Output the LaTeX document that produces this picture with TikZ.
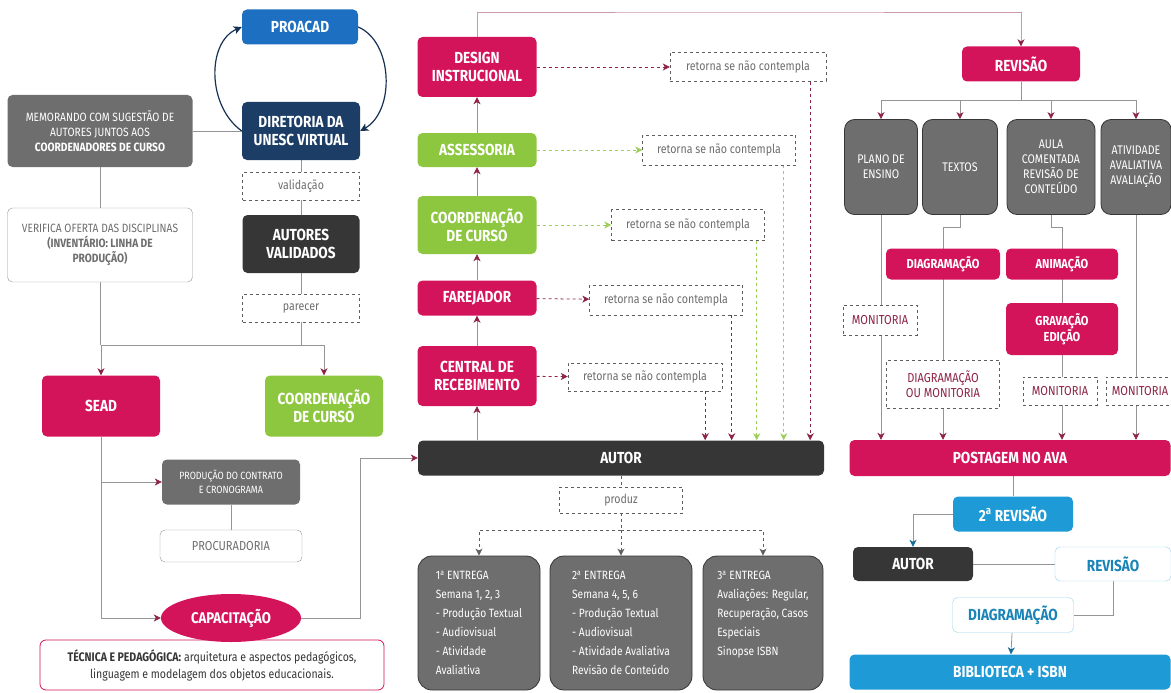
\documentclass[tikz,border=0pt]{standalone}
\usepackage{fontspec}
\setmainfont{Fira Sans}[FakeStretch=0.85]
\usetikzlibrary{arrows.meta,shapes.geometric,backgrounds}

\definecolor{crimson}{HTML}{D4145A}
\definecolor{leaf}{HTML}{8DC63F}
\definecolor{coal}{HTML}{363636}
\definecolor{slate}{HTML}{6E6E6E}
\definecolor{navy}{HTML}{1B3D66}
\definecolor{royal}{HTML}{1C6FC1}
\definecolor{sky}{HTML}{1E9BD7}
\definecolor{wire}{HTML}{959595}
\definecolor{wine}{HTML}{8E2445}
\definecolor{rose}{HTML}{C99AA9}

\begin{document}
\begin{tikzpicture}[x=1pt, y=-1pt,
  box/.style={rounded corners=5pt, align=center, text=white, inner sep=2pt,
    font=\bfseries\fontsize{16}{18}\selectfont},
  redbox/.style={box, fill=crimson},
  greenbox/.style={box, fill=leaf},
  darkbox/.style={box, fill=coal},
  greybox/.style={box, fill=slate, font=\fontsize{12}{15}\selectfont},
  tallbox/.style={box, fill=slate, draw=coal, thick, rounded corners=10pt,
    font=\fontsize{12.5}{15}\selectfont, minimum height=95pt},
  entrega/.style={box, fill=slate, draw=coal, thick, rounded corners=14pt, align=left,
    minimum height=134pt, font=\fontsize{12}{19}\selectfont},
  outbox/.style={box, fill=white, draw=wire, text=slate},
  blueout/.style={box, fill=white, draw=sky!45, text=sky!85!black},
  dashbox/.style={draw=coal!80, dashed, fill=white, align=center, inner sep=2pt,
    text=slate, font=\fontsize{12.5}{14}\selectfont},
  monbox/.style={dashbox, text=wine, font=\fontsize{13}{15}\selectfont},
  line/.style={draw=wire, thick},
  arr/.style={line, -{Stealth[length=7pt, width=7pt, inset=2pt, color=wine]}},
  bluearr/.style={line, -{Stealth[length=7pt, width=7pt, inset=2pt, color=sky!70!black]}},
  dashred/.style={draw=wine, thick, dashed, -{Stealth[length=7pt, width=7pt, inset=2pt]}},
  dashgreen/.style={draw=leaf!85, thick, dashed, -{Stealth[length=7pt, width=7pt, inset=2pt]}},
  dashgrey/.style={draw=coal!80, thick, dashed},
  loop/.style={draw=navy!80!black, very thick, -{Stealth[length=8pt, width=8pt, inset=2pt]}}
]
\useasboundingbox (0,0) rectangle (1171,693);

% left column
\node[box, fill=royal, minimum width=116pt, minimum height=35pt] (proacad) at (300,27) {PROACAD};
\node[box, fill=navy, minimum width=118pt, minimum height=58pt] (diretoria) at (301,131) {DIRETORIA DA\\UNESC VIRTUAL};
\node[greybox, minimum width=185pt, minimum height=72pt] (memo) at (100,131) {MEMORANDO COM SUGESTÃO DE\\AUTORES JUNTOS AOS\\\textbf{COORDENADORES DE CURSO}};
\node[dashbox, minimum width=117pt, minimum height=28pt] (valid) at (301,186) {validação};
\node[darkbox, minimum width=117pt, minimum height=58pt] (validados) at (301,244) {AUTORES\\VALIDADOS};
\node[dashbox, minimum width=117pt, minimum height=28pt] (parecer) at (301,308) {parecer};
\node[outbox, minimum width=185pt, minimum height=74pt, font=\fontsize{12}{15}\selectfont] (oferta) at (100,245) {VERIFICA OFERTA DAS DISCIPLINAS\\\textbf{(INVENTÁRIO: LINHA DE}\\\textbf{PRODUÇÃO)}};
\node[redbox, minimum width=118pt, minimum height=61pt] (sead) at (101,406) {SEAD};
\node[greenbox, minimum width=118pt, minimum height=61pt] (coordA) at (324,406) {COORDENAÇÃO\\DE CURSO};
\node[greybox, minimum width=138pt, minimum height=45pt, font=\fontsize{10.5}{14}\selectfont] (contrato) at (231,482) {PRODUÇÃO DO CONTRATO\\E CRONOGRAMA};
\node[outbox, minimum width=142pt, minimum height=32pt, font=\fontsize{13}{15}\selectfont] (procur) at (231,546) {PROCURADORIA};
\node[draw=crimson, thick, rounded corners=6pt, fill=white, minimum width=344pt, minimum height=50pt, align=center, text=coal, font=\fontsize{12.4}{17}\selectfont] (tecnica) at (212,665) {\textbf{TÉCNICA E PEDAGÓGICA:} arquitetura e aspectos pedagógicos,\\linguagem e modelagem dos objetos educacionais.};
\node[ellipse, fill=crimson, text=white, minimum width=140pt, minimum height=48pt, font=\bfseries\fontsize{15.5}{17}\selectfont] (capac) at (231,618) {CAPACITAÇÃO};

\coordinate (split) at (301,345);
\coordinate (elbow) at (360,458);

% middle column
\node[redbox, minimum width=119pt, minimum height=60pt] (design) at (477,67) {DESIGN\\INSTRUCIONAL};
\node[greenbox, minimum width=119pt, minimum height=34pt] (assess) at (477,150) {ASSESSORIA};
\node[greenbox, minimum width=119pt, minimum height=58pt] (coordB) at (477,225) {COORDENAÇÃO\\DE CURSO};
\node[redbox, minimum width=119pt, minimum height=35pt] (farej) at (477,298) {FAREJADOR};
\node[redbox, minimum width=119pt, minimum height=60pt] (central) at (477,376) {CENTRAL DE\\RECEBIMENTO};
\node[darkbox, minimum width=406pt, minimum height=35pt] (autor) at (621,458) {AUTOR};

\node[dashbox, minimum width=156pt, minimum height=29pt] (ret1) at (748,67) {retorna se não contempla};
\node[dashbox, minimum width=153pt, minimum height=30pt] (ret2) at (719,150) {retorna se não contempla};
\node[dashbox, minimum width=153pt, minimum height=31pt] (ret3) at (688,225) {retorna se não contempla};
\node[dashbox, minimum width=153pt, minimum height=30pt] (ret4) at (666,300) {retorna se não contempla};
\node[dashbox, minimum width=154pt, minimum height=28pt] (ret5) at (645,377) {retorna se não contempla};

\node[dashbox, minimum width=123pt, minimum height=26pt] (produz) at (621,500) {produz};
\coordinate (fork) at (621,530);
\node[entrega, minimum width=122pt] (ent1) at (479,623) {1\textsuperscript{a} ENTREGA\\Semana 1, 2, 3\\- Produção Textual\\- Audiovisual\\- Atividade\\Avaliativa};
\node[entrega, minimum width=142pt] (ent2) at (621,623) {2\textsuperscript{a} ENTREGA\\Semana 4, 5, 6\\- Produção Textual\\- Audiovisual\\- Atividade Avaliativa\\Revisão de Conteúdo};
\node[entrega, minimum width=120pt] (ent3) at (763,623) {3\textsuperscript{a} ENTREGA\\Avaliações: Regular,\\Recuperação, Casos\\Especiais\\Sinopse ISBN\\\mbox{}};

% right column
\coordinate (roof) at (750,12);
\node[redbox, minimum width=118pt, minimum height=35pt] (rev) at (1021,64) {REVISÃO};
\coordinate (rfork) at (1021,100);
\node[tallbox, minimum width=73pt] (plano) at (881,167) {PLANO DE\\ENSINO};
\node[tallbox, minimum width=75pt] (textos) at (960,167) {TEXTOS};
\node[tallbox, minimum width=88pt] (aula) at (1051,167) {AULA\\COMENTADA\\REVISÃO DE\\CONTEÚDO};
\node[tallbox, minimum width=70pt] (ativ) at (1136,167) {ATIVIDADE\\AVALIATIVA\\AVALIAÇÃO};

\node[redbox, minimum width=114pt, minimum height=31pt, font=\bfseries\fontsize{13}{15}\selectfont] (diag) at (943,264) {DIAGRAMAÇÃO};
\node[redbox, minimum width=112pt, minimum height=31pt, font=\bfseries\fontsize{13}{15}\selectfont] (anim) at (1062,264) {ANIMAÇÃO};
\node[monbox, minimum width=74pt, minimum height=30pt] (monA) at (880,320) {MONITORIA};
\node[redbox, minimum width=112pt, minimum height=52pt, font=\bfseries\fontsize{13}{16}\selectfont] (grav) at (1062,329) {GRAVAÇÃO\\EDIÇÃO};
\node[monbox, minimum width=113pt, minimum height=48pt] (diagmon) at (943,384) {DIAGRAMAÇÃO\\OU MONITORIA};
\node[monbox, minimum width=74pt, minimum height=28pt] (monB) at (1060,391) {MONITORIA};
\node[monbox, minimum width=68pt, minimum height=28pt] (monC) at (1140,391) {MONITORIA};
\node[redbox, minimum width=321pt, minimum height=36pt] (postagem) at (1010,458) {POSTAGEM NO AVA};

\node[box, fill=sky, minimum width=120pt, minimum height=35pt] (rev2) at (1013,514) {2\textsuperscript{a} REVISÃO};
\node[darkbox, minimum width=120pt, minimum height=34pt] (autor2) at (913,564) {AUTOR};
\node[blueout, minimum width=116pt, minimum height=34pt] (rev3) at (1113,564) {REVISÃO};
\node[blueout, minimum width=121pt, minimum height=35pt] (diag2) at (1013,615) {DIAGRAMAÇÃO};
\node[box, fill=sky, minimum width=321pt, minimum height=35pt] (biblio) at (1010,672) {BIBLIOTECA + ISBN};

\begin{pgfonlayer}{background}
% left connectors
\draw[loop] (diretoria.west) .. controls +(-35,-25) and +(-35,15) .. (proacad.west);
\draw[loop] (proacad.east) .. controls +(35,15) and +(35,-20) .. (diretoria.east);
\draw[line] (memo) -- (diretoria);
\draw[line] (diretoria) -- (valid);
\draw[line] (valid) -- (validados);
\draw[line] (validados) -- (parecer);
\draw[line] (parecer) -- (split);
\draw[line] (memo) -- (oferta);
\draw[line] (oferta.south) -- (oferta.south |- split);
\draw[arr] (split) -| (sead.north);
\draw[arr] (split) -| (coordA.north);
\draw[arr] (sead.south) |- (capac.west);
\draw[arr] (sead.south |- contrato.west) -- (contrato.west);
\draw[line] (contrato) -- (procur);
\draw[arr] (capac.east) -| (elbow) -- (autor.west);
% middle connectors
\draw[arr] (central.south |- autor.north) -- (central);
\draw[arr] (central) -- (farej);
\draw[arr] (farej) -- (coordB);
\draw[arr] (coordB) -- (assess);
\draw[arr] (assess) -- (design);
\draw[dashred] (design) -- (ret1);
\draw[dashgreen] (assess) -- (ret2);
\draw[dashgreen] (coordB) -- (ret3);
\draw[dashred] (farej) -- (ret4);
\draw[dashred] (central) -- (ret5);
\draw[dashred] ([xshift=-17pt]ret5.south east) -- ([xshift=-17pt]ret5.south east |- autor.north);
\draw[dashred] ([xshift=-11pt]ret4.south east) -- ([xshift=-11pt]ret4.south east |- autor.north);
\draw[dashgreen] ([xshift=-8pt]ret3.south east) -- ([xshift=-8pt]ret3.south east |- autor.north);
\draw[dashgreen] ([xshift=-12pt]ret2.south east) -- ([xshift=-12pt]ret2.south east |- autor.north);
\draw[dashred] ([xshift=-16pt]ret1.south east) -- ([xshift=-16pt]ret1.south east |- autor.north);
\draw[dashgrey] (autor) -- (produz);
\draw[dashgrey] (produz) -- (fork);
\draw[dashgrey, -{Stealth[length=7pt, width=7pt, inset=2pt]}] (fork) -| (ent1.north);
\draw[dashgrey, -{Stealth[length=7pt, width=7pt, inset=2pt]}] (fork) -- (ent2.north);
\draw[dashgrey, -{Stealth[length=7pt, width=7pt, inset=2pt]}] (fork) -| (ent3.north);
% right connectors
\draw[arr, draw=rose] (design.north) |- (roof) -| (rev.north);
\draw[line] (rev) -- (rfork);
\draw[arr] (rfork) -| (plano.north);
\draw[arr] (rfork) -| (textos.north);
\draw[arr] (rfork) -| (aula.north);
\draw[arr] (rfork) -| (ativ.north);
\draw[arr] (plano.south) -- (plano.south |- postagem.north);
\draw[arr] (textos.south) -- ++(0,12) -| (diag.north |- postagem.north);
\draw[arr] (aula.south) -- ++(0,12) -| (anim.north |- postagem.north);
\draw[arr] (ativ.south) -- (ativ.south |- postagem.north);
\draw[line] (rev2.north |- postagem.south) -- (rev2.north);
\draw[bluearr] (rev2.west) -| (autor2.north);
\draw[line] (autor2) -- (rev3);
\draw[line] (rev3.south) |- (diag2.east);
\draw[bluearr] (diag2) -- (biblio);
\end{pgfonlayer}
\end{tikzpicture}
\end{document}
